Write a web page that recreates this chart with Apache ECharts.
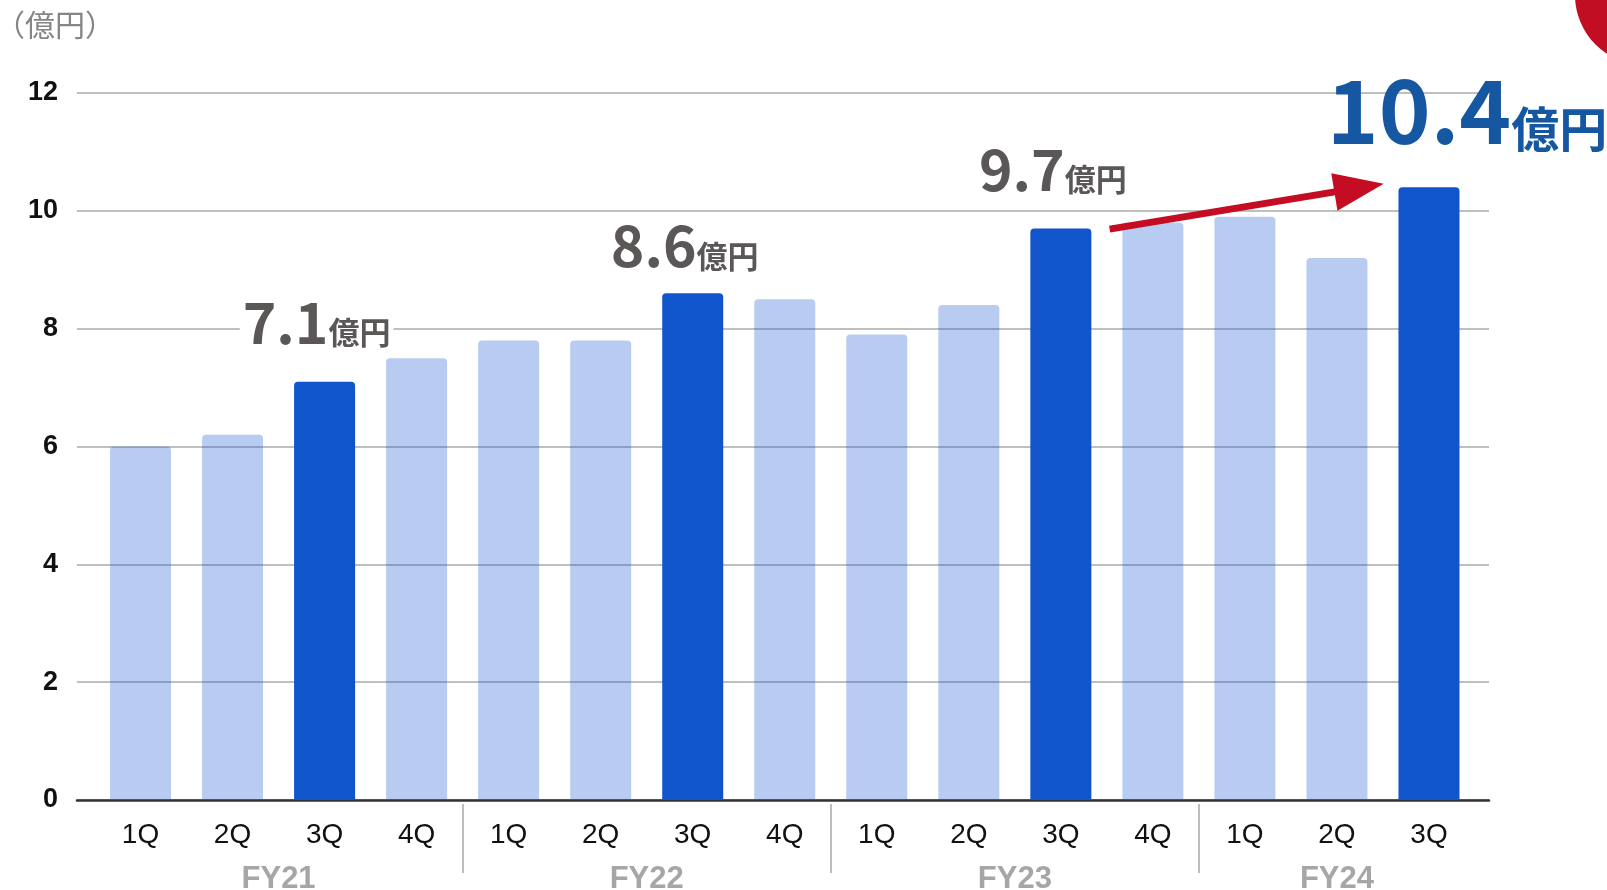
<!DOCTYPE html>
<html>
<head>
<meta charset="utf-8">
<script src="https://cdn.jsdelivr.net/npm/echarts@6/dist/echarts.min.js"></script>
<style>
html,body{margin:0;padding:0;background:#fff;}
#chart{width:1607px;height:890px;}
</style>
</head>
<body>
<div id="chart"></div>
<script>
// ---- data ----
const quarters = ['1Q','2Q','3Q','4Q','1Q','2Q','3Q','4Q','1Q','2Q','3Q','4Q','1Q','2Q','3Q'];
const quarterYear = ['FY21','FY21','FY21','FY21','FY22','FY22','FY22','FY22','FY23','FY23','FY23','FY23','FY24','FY24','FY24'];
const fiscalYears = ['FY21','FY22','FY23','FY24'];
const fiscalYearCenters = [1.5, 5.5, 9.5, 13];
const groupBoundaries = [3.5, 7.5, 11.5];
const revenue = [6.0, 6.2, 7.1, 7.5, 7.8, 7.8, 8.6, 8.5, 7.9, 8.4, 9.7, 9.8, 9.9, 9.2, 10.4];
const highlighted = [2, 6, 10, 14];
const yMin = 0, yMax = 12, yStep = 2;
const unitLabel = '（億円）';
const valueUnit = '億円';
const arrowFrom = [10.53, 9.69];
const arrowTo = [13.24, 10.39];

// ---- styles ----
const LIGHT = 'rgba(17,85,204,0.3)';
const DARK = '#1155cc';
const GRAY_TXT = '#5b5757';
const BLUE_TXT = '#1557a0';
const CJK = '"Noto Sans CJK JP", "Noto Sans", sans-serif';
const labelDistance = { 2: 31, 6: 19, 10: 31, 14: 33 };

const categories = quarters.map((q, i) => quarterYear[i] + ' ' + q);

function labelFor(i) {
  const last = i === revenue.length - 1;
  return {
    show: true,
    position: 'top',
    distance: labelDistance[i],
    offset: last ? [38, 0] : [-8, 0],
    backgroundColor: last ? 'transparent' : '#fff',
    padding: [0, 3, 0, 3],
    formatter: '{num|' + revenue[i].toFixed(1) + '}{unit|' + valueUnit + '}',
    rich: {
      num: {
        fontFamily: CJK, fontWeight: 'bold',
        fontSize: last ? 88 : 57,
        lineHeight: last ? 70 : 45,
        color: last ? BLUE_TXT : GRAY_TXT,
        verticalAlign: 'bottom'
      },
      unit: {
        fontFamily: CJK, fontWeight: 'bold',
        fontSize: last ? 48 : 31,
        lineHeight: last ? 48 : 31,
        color: last ? BLUE_TXT : GRAY_TXT,
        verticalAlign: 'bottom',
        padding: last ? [0, 0, 2, 0] : [0, 0, 3, 0]
      }
    }
  };
}

const barData = revenue.map((v, i) => {
  const hi = highlighted.indexOf(i) >= 0;
  const item = { value: v, itemStyle: { color: hi ? DARK : LIGHT } };
  if (hi) item.label = labelFor(i);
  return item;
});

const chart = echarts.init(document.getElementById('chart'), null, { renderer: 'canvas' });
chart.setOption({
  backgroundColor: '#fff',
  animation: false,
  title: {
    text: unitLabel, left: -5, top: 10, padding: 0,
    textStyle: { fontFamily: CJK, fontSize: 30, fontWeight: 'normal', color: '#858585' }
  },
  grid: [
    { left: 77, right: 118, top: 93, bottom: 90, containLabel: false, outerBoundsMode: 'none' },
    { left: 94.5, right: 132, top: 93, bottom: 90, containLabel: false, outerBoundsMode: 'none' }
  ],
  xAxis: [
    {
      gridIndex: 0, type: 'value', min: 0, max: 1, position: 'bottom',
      axisLine: { show: true, onZero: false, lineStyle: { color: '#333', width: 2.5 } },
      axisTick: { show: false }, axisLabel: { show: false }, splitLine: { show: false }
    },
    {
      gridIndex: 1, type: 'category', data: categories, boundaryGap: true, position: 'bottom',
      axisLine: { show: false },
      axisTick: { show: false },
      axisLabel: {
        show: true, interval: 0, margin: 21,
        formatter: (v) => v.split(' ')[1],
        fontFamily: 'Liberation Sans, Arial, sans-serif', fontSize: 28, color: '#111'
      },
      splitLine: { show: false }
    },
    {
      gridIndex: 1, type: 'value', min: -0.5, max: 14.5, position: 'bottom', offset: 4,
      axisLine: { show: false }, splitLine: { show: false },
      axisTick: {
        show: true, customValues: groupBoundaries, length: 69,
        lineStyle: { color: '#a8a8a8', width: 1.5 }
      },
      axisLabel: {
        show: true, margin: 60, customValues: fiscalYearCenters,
        formatter: (v) => {
          const k = fiscalYearCenters.indexOf(v);
          return k >= 0 ? fiscalYears[k] : '';
        },
        fontFamily: '"Liberation Sans Narrow", "Liberation Sans", sans-serif',
        fontWeight: 'bold', fontSize: 31, color: '#a6a6a6'
      }
    }
  ],
  yAxis: [
    {
      gridIndex: 0, type: 'value', min: yMin, max: yMax, interval: yStep,
      axisLine: { show: false }, axisTick: { show: false },
      axisLabel: {
        margin: 19, fontFamily: 'Liberation Sans, Arial, sans-serif',
        fontWeight: 'bold', fontSize: 27, color: '#111'
      },
      splitLine: { show: true, lineStyle: { color: '#bfbfbf', width: 2 } }
    },
    {
      gridIndex: 1, type: 'value', min: yMin, max: yMax, interval: yStep,
      axisLine: { show: false }, axisTick: { show: false },
      axisLabel: { show: false }, splitLine: { show: false }
    }
  ],
  series: [
    {
      type: 'bar', xAxisIndex: 1, yAxisIndex: 1,
      data: barData, barWidth: 61,
      itemStyle: { borderRadius: [4, 4, 0, 0] },
      z: 3
    },
    {
      type: 'line', xAxisIndex: 2, yAxisIndex: 1, data: [], silent: true, z: 5,
      markLine: {
        silent: true, animation: false,
        symbol: ['none', 'triangle'], symbolSize: [38, 50],
        label: { show: false },
        lineStyle: { color: '#c40d23', width: 7, type: 'solid' },
        data: [[{ coord: arrowFrom }, { coord: arrowTo }]]
      }
    }
  ],
  graphic: [
    { type: 'circle', shape: { cx: 1645, cy: -5, r: 70 }, style: { fill: '#c20e23' }, z: 10 }
  ]
});
</script>
</body>
</html>
